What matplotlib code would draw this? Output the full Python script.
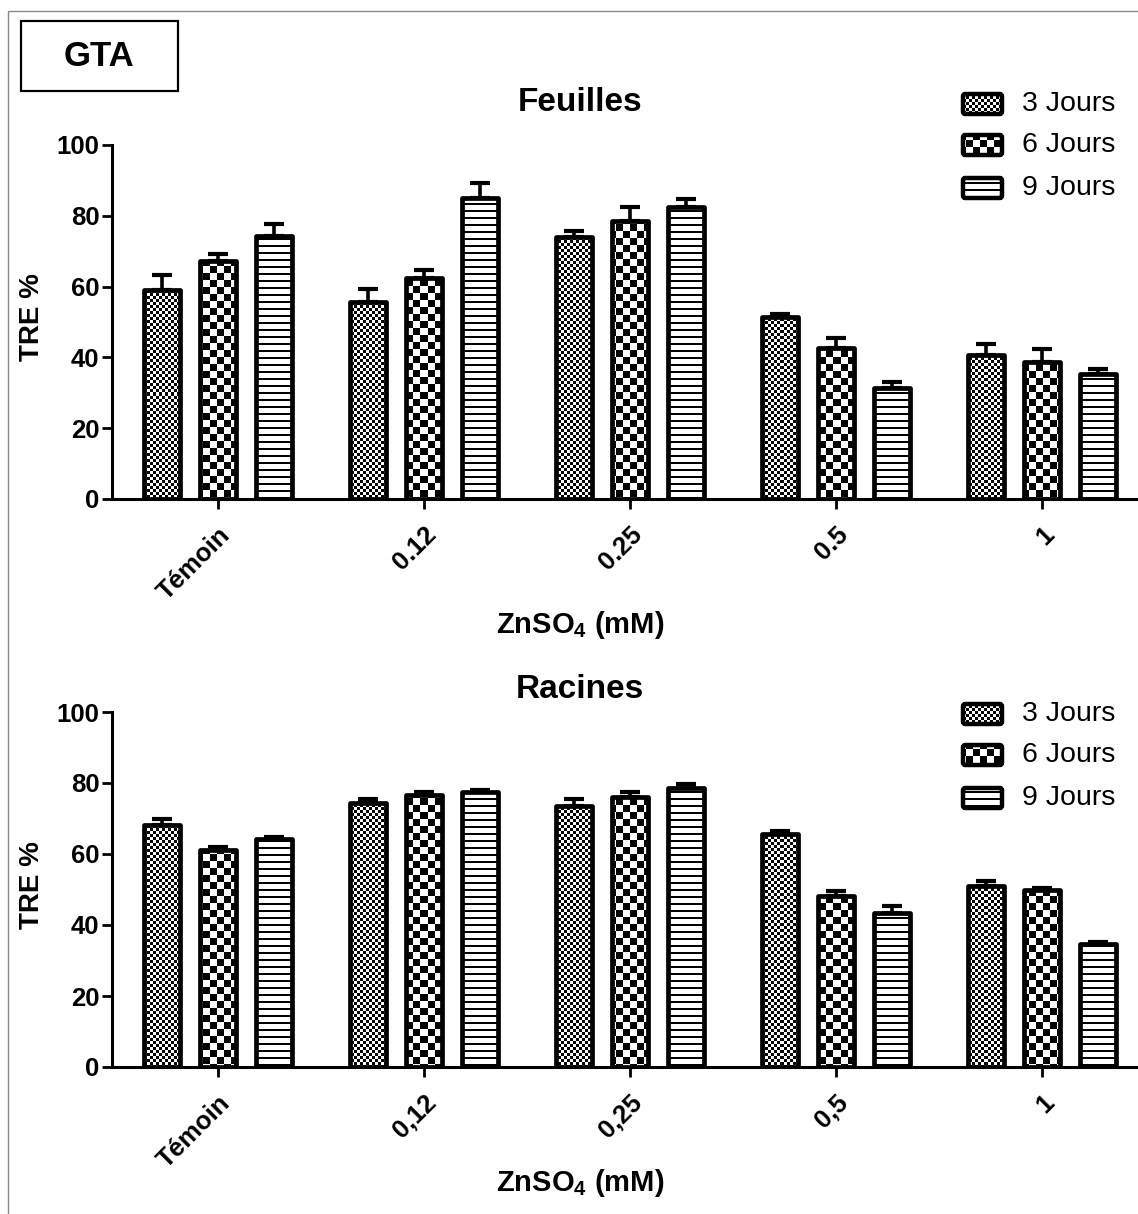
import numpy as np
import matplotlib
matplotlib.use("Agg")
import matplotlib.pyplot as plt
from matplotlib.patches import Rectangle, FancyBboxPatch

# ---------------- data ----------------
categories_feuilles = ["Témoin", "0.12", "0.25", "0.5", "1"]
categories_racines = ["Témoin", "0,12", "0,25", "0,5", "1"]
series_names = ["3 Jours", "6 Jours", "9 Jours"]

feuilles_3j = [59.0, 55.6, 74.0, 51.4, 40.6]
feuilles_3j_err = [4.2, 3.8, 1.6, 1.0, 3.3]
feuilles_6j = [67.2, 62.4, 78.4, 42.6, 38.7]
feuilles_6j_err = [2.0, 2.3, 4.0, 2.8, 3.6]
feuilles_9j = [74.3, 85.0, 82.4, 31.3, 35.3]
feuilles_9j_err = [3.4, 4.2, 2.3, 1.7, 1.4]

racines_3j = [68.1, 74.3, 73.4, 65.6, 50.9]
racines_3j_err = [1.7, 1.1, 2.0, 0.9, 1.4]
racines_6j = [61.1, 76.6, 76.0, 48.1, 49.8]
racines_6j_err = [0.8, 0.8, 1.4, 1.4, 0.5]
racines_9j = [64.2, 77.4, 78.6, 43.3, 34.6]
racines_9j_err = [0.6, 0.6, 1.1, 2.0, 0.5]

yticks = [0, 20, 40, 60, 80, 100]

# ---------------- style ----------------
plt.rcParams["font.family"] = ["Liberation Sans", "DejaVu Sans"]
plt.rcParams["mathtext.fontset"] = "custom"
plt.rcParams["mathtext.rm"] = "Liberation Sans"
plt.rcParams["mathtext.bf"] = "Liberation Sans:bold"

W, H = 1138, 1214
DPI = 100
fig = plt.figure(figsize=(W / DPI, H / DPI), dpi=DPI)

PATTERNS = ["fine", "coarse", "lines"]


def pattern_array(kind, xs, ys):
    X, Y = np.meshgrid(xs, ys)
    if kind == "fine":
        return ((X // 3 + Y // 3) % 2).astype(float)
    if kind == "coarse":
        return ((X // 7 + Y // 7) % 2).astype(float)
    return np.where(Y % 7 < 2, 0.0, 1.0)


def add_axes_px(left, top, right, bottom):
    return fig.add_axes([left / W, 1 - bottom / H, (right - left) / W, (bottom - top) / H])


def fill_bar(ax, x0, x1, y0, y1, kind):
    (dx0, dy0), (dx1, dy1) = ax.transData.transform([(x0, y0), (x1, y1)])
    px0, px1 = int(np.floor(dx0)), int(np.ceil(dx1))
    t_top, t_bot = int(np.floor(H - dy1)), int(np.ceil(H - dy0))
    xs = np.arange(px0, px1)
    ys = np.arange(t_top, t_bot)
    arr = pattern_array(kind, xs, ys)
    inv = ax.transData.inverted()
    (ex0, ey1), (ex1, ey0) = inv.transform([(px0, H - t_top), (px1, H - t_bot)])
    ax.imshow(arr, extent=(ex0, ex1, ey0, ey1), origin="upper", cmap="gray",
              vmin=0, vmax=1, interpolation="nearest", aspect="auto", zorder=2)


def draw_panel(ax, means, errs, cats, title, title_y, xlabel_y, legend_rows_y):
    n = len(cats)
    x = np.arange(n)
    offsets = [-0.272, 0.0, 0.272]
    width = 0.172
    xlim = (-0.5146, (W - 218) / 206)
    ax.set_xlim(*xlim)
    ax.set_ylim(0, 100)
    ax.set_autoscale_on(False)
    for k in range(3):
        xpos = x + offsets[k]
        ax.errorbar(xpos, means[k], yerr=[np.zeros(n), errs[k]], fmt="none",
                    ecolor="black", elinewidth=2.6, capsize=7.5, capthick=3.0, zorder=1)
        ax.bar(xpos, means[k], width=width, facecolor="none", edgecolor="black",
               linewidth=3.4, zorder=3, joinstyle="round")
        for xi, m in zip(xpos, means[k]):
            fill_bar(ax, xi - width / 2, xi + width / 2, 0, m, PATTERNS[k])
    ax.set_xlim(*xlim)
    ax.set_ylim(0, 100)

    for s in ["top", "right"]:
        ax.spines[s].set_visible(False)
    for s in ["left", "bottom"]:
        ax.spines[s].set_linewidth(2.2)
        ax.spines[s].set_zorder(4)
    ax.set_yticks(yticks)
    ax.set_yticklabels([str(v) for v in yticks], fontsize=18.5, fontweight="bold")
    ax.tick_params(axis="y", direction="out", length=7, width=2.0, pad=2)
    ax.set_xticks(x)
    ax.set_xticklabels(cats, fontsize=18.5, fontweight="bold", rotation=45,
                       ha="right", va="top", rotation_mode="anchor")
    ax.tick_params(axis="x", direction="out", length=7, width=2.0, pad=10)
    ax.set_ylabel("TRE %", fontsize=20, fontweight="bold")
    ax.yaxis.set_label_coords(-0.065, 0.513)
    ax.set_xlabel(r"ZnSO$_{\mathbf{4}}$ (mM)", fontsize=21, fontweight="bold", va="center")
    ax.xaxis.set_label_coords(0.456, xlabel_y)
    ax.text(0.456, title_y, title, transform=ax.transAxes, ha="center", va="center",
            fontsize=24, fontweight="bold")

    # legend (manual, pixel placement)
    for k, yc in enumerate(legend_rows_y):
        bx0, bx1 = 963, 1002
        by0, by1 = yc - 10, yc + 10
        xs = np.arange(bx0, bx1)
        ys = np.arange(by0, by1)
        arr = pattern_array(PATTERNS[k], xs, ys)
        fig.figimage(arr, xo=bx0, yo=H - by1, origin="upper", cmap="gray",
                     vmin=0, vmax=1, zorder=5)
        fig.add_artist(FancyBboxPatch((bx0 / W, 1 - by1 / H), (bx1 - bx0) / W, (by1 - by0) / H,
                                      boxstyle="round,pad=0,rounding_size=0.002",
                                      transform=fig.transFigure, facecolor="none",
                                      edgecolor="black", linewidth=3.2, zorder=6))
        fig.text(1022 / W, 1 - yc / H, series_names[k], fontsize=20.5, ha="left",
                 va="center")


ax1 = add_axes_px(112, 145, W, 499)
draw_panel(ax1, [feuilles_3j, feuilles_6j, feuilles_9j],
           [feuilles_3j_err, feuilles_6j_err, feuilles_9j_err],
           categories_feuilles, "Feuilles", 1.12, -0.356, [104, 145, 188])

ax2 = add_axes_px(112, 712, W, 1067)
draw_panel(ax2, [racines_3j, racines_6j, racines_9j],
           [racines_3j_err, racines_6j_err, racines_9j_err],
           categories_racines, "Racines", 1.062, -0.327, [714, 755, 798])

# GTA box
fig.add_artist(Rectangle((21 / W, 1 - 91 / H), (178 - 21) / W, (91 - 21) / H,
                         transform=fig.transFigure, facecolor="none",
                         edgecolor="black", linewidth=1.6))
fig.text(99.5 / W, 1 - 57 / H, "GTA", fontsize=25, fontweight="bold",
         ha="center", va="center")

# outer frame
fig.add_artist(Rectangle((8 / W, -0.01), 1.1, 1 - 11 / H + 0.01,
                         transform=fig.transFigure, facecolor="none",
                         edgecolor="#8a8a8a", linewidth=1.0, clip_on=False))

fig.savefig("out.png", dpi=DPI)
